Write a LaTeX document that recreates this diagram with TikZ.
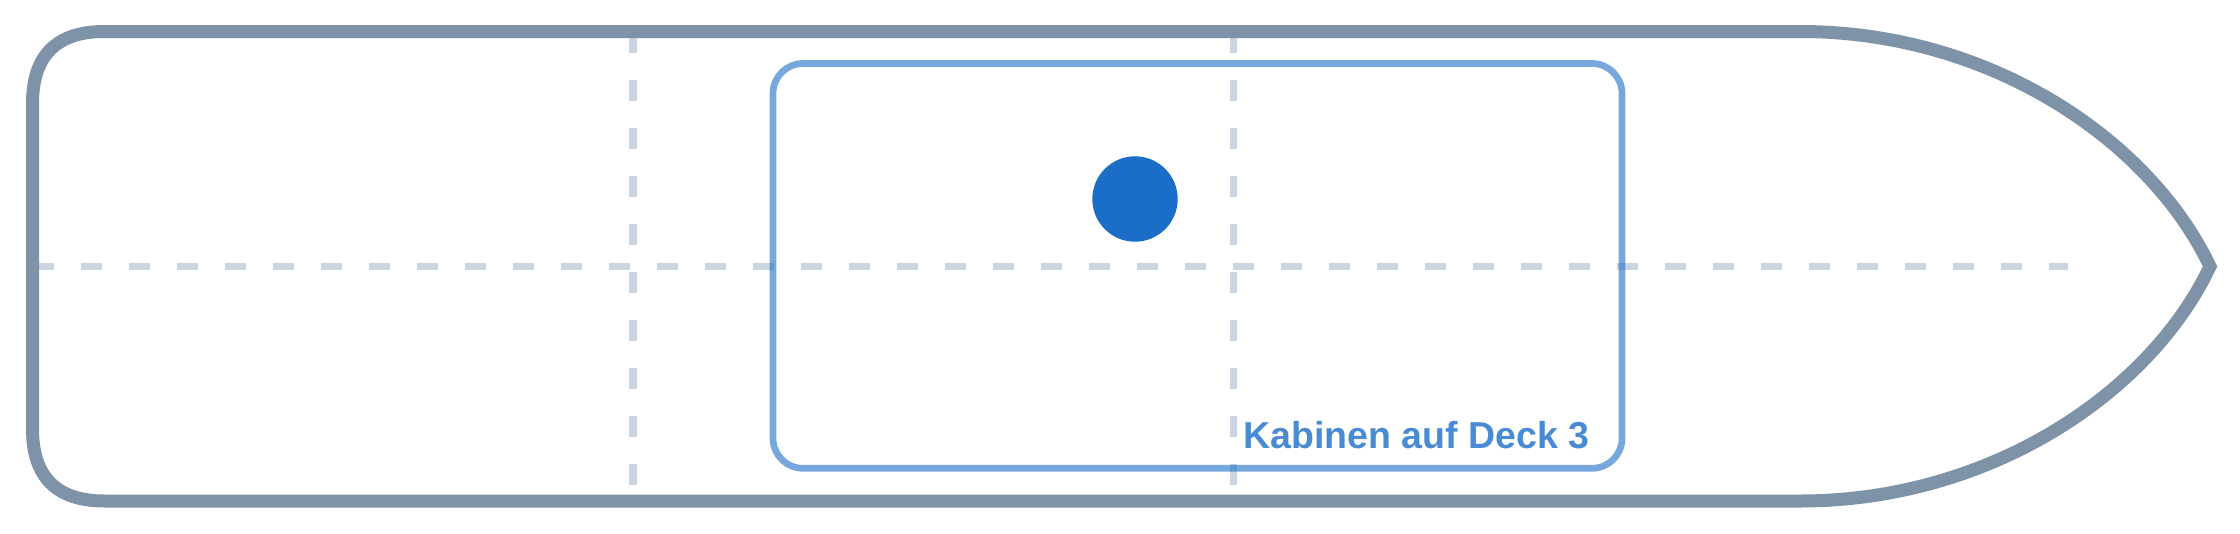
\documentclass[tikz,border=0pt]{standalone}
\usepackage{fontspec}
\setmainfont{Liberation Sans}
\definecolor{hull}{HTML}{7F93A8}
\definecolor{gridc}{HTML}{CBD5E1}
\definecolor{cabinblue}{HTML}{1B6EC8}
\definecolor{labelblue}{HTML}{498BD3}
\begin{document}
\begin{tikzpicture}[x=1pt,y=-1pt,
  hullline/.style={draw=hull,line width=13pt,line join=miter},
  gridline/.style={draw=gridc,line width=7.3pt,dash pattern=on 21pt off 27pt},
  cabinbox/.style={draw=cabinblue,draw opacity=0.6,line width=6.7pt,rounded corners=30pt,
    minimum width=849pt,minimum height=404.8pt,inner sep=0pt},
  cabinlabel/.style={anchor=base east,text=labelblue,inner sep=0pt,
    font=\fontsize{37.5}{40}\selectfont\bfseries}]
\useasboundingbox (0,0) rectangle (2240,533);
% grid lines
\coordinate (hl) at (32.5,266.3);
\coordinate (hr) at (2068,266.3);
\coordinate (v1t) at (633,31.5);
\coordinate (v1b) at (633,501);
\coordinate (v2t) at (1233.5,31.5);
\coordinate (v2b) at (1233.5,501);
\draw[gridline] (hl) -- (hr);
\draw[gridline] (v1t) -- (v1b);
\draw[gridline] (v2t) -- (v2b);
% hull
\draw[hullline] (104.5,31.5) -- (1800,31.5)
  .. controls (1990,31.5) and (2150,140) .. (2210,266.5)
  .. controls (2150,393) and (1990,501) .. (1800,501)
  -- (104.5,501) .. controls (56.5,501) and (32.5,477) .. (32.5,429)
  -- (32.5,103.5) .. controls (32.5,55.5) and (56.5,31.5) .. (104.5,31.5) -- cycle;
% cabin
\node[cabinbox] (cabin) at (1197.5,265.9) {};
\coordinate (dot) at (1135,199);
\fill[cabinblue] (dot) circle[radius=42.7];
\node[cabinlabel] (label) at (1589.5,448.3) {Kabinen auf Deck 3};
\end{tikzpicture}
\end{document}
